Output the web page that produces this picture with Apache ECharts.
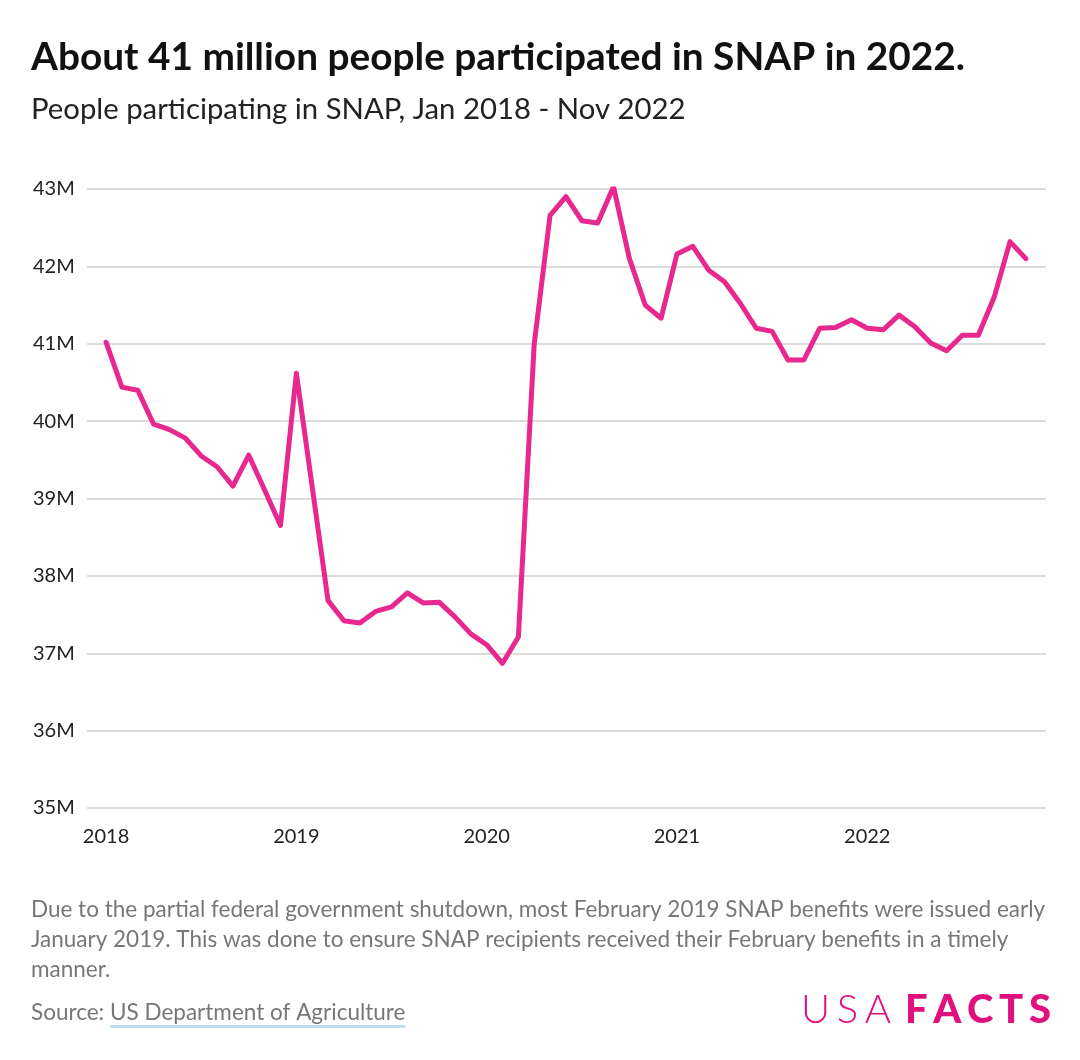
<!DOCTYPE html>
<html lang="en">
<head>
    <meta charset="UTF-8">
    <title>SNAP participation</title>
    <script src="https://cdn.jsdelivr.net/npm/echarts@6.0.0/dist/echarts.min.js"></script>
    <style>
        body {
            margin: 0;
            background-color: #fff;
        }

        #chart {
            width: 1080px;
            height: 1060px;
        }
    </style>
</head>
<body>
    <div id="chart"></div>

    <script>
        // months since Jan 2018 (0 = Jan 2018, 58 = Nov 2022)
        const months = [];
        for (let i = 0; i < 59; i++) months.push(i);

        // people participating in SNAP, millions
        const participants = [
            41.02, 40.44, 40.40, 39.96, 39.89, 39.78, 39.55, 39.41, 39.16, 39.56, 39.11, 38.65,
            40.62, 39.15, 37.68, 37.42, 37.39, 37.54, 37.60, 37.78, 37.65, 37.66, 37.47, 37.25,
            37.11, 36.87, 37.21, 41.00, 42.66, 42.90, 42.59, 42.56, 43.03, 42.10, 41.50, 41.33,
            42.16, 42.26, 41.95, 41.80, 41.52, 41.20, 41.16, 40.79, 40.79, 41.20, 41.21, 41.31,
            41.20, 41.18, 41.37, 41.22, 41.01, 40.91, 41.11, 41.11, 41.60, 42.32, 42.10
        ];

        const yearTicks = [0, 12, 24, 36, 48];
        const yearLabels = ['2018', '2019', '2020', '2021', '2022'];

        const noteLines = [
            'Due to the partial federal government shutdown, most February 2019 SNAP benefits were issued early',
            'January 2019. This was done to ensure SNAP recipients received their February benefits in a timely',
            'manner.'
        ];

        const font = 'Lato, "Noto Sans", sans-serif';
        const pink = '#e6288f';
        const logoPink = '#e0117f';

        const ctx = document.createElement('canvas').getContext('2d');

        // width of the source link text, for the underline
        ctx.font = '22.5px Lato';
        const prefixW = ctx.measureText('Source: ').width;
        const linkW = ctx.measureText('US Department of Agriculture').width;

        // spread a word's letters between x0 and x1
        function spacedWord(word, fontStr, x0, x1, top) {
            ctx.font = fontStr;
            const widths = word.split('').map(ch => ctx.measureText(ch).width);
            const total = widths.reduce((a, b) => a + b, 0);
            const gap = (x1 - x0 - total) / (word.length - 1);
            let x = x0;
            return word.split('').map((ch, i) => {
                const el = {
                    type: 'text', left: x, top: top,
                    style: { text: ch, font: fontStr, fill: logoPink }
                };
                x += widths[i] + gap;
                return el;
            });
        }

        const chart = echarts.init(document.getElementById('chart'));

        const graphics = noteLines.map((line, i) => ({
            type: 'text',
            left: 31,
            top: 898 + i * 30,
            style: { text: line, font: '22.5px ' + font, fill: '#777' }
        }));
        graphics.push({
            type: 'text', left: 31, top: 1001,
            style: { text: 'Source: US Department of Agriculture', font: '22.5px ' + font, fill: '#777' }
        });
        graphics.push({
            type: 'rect',
            shape: { x: 31 + prefixW, y: 1025, width: linkW, height: 3 },
            style: { fill: '#bfe0ee' }
        });
        graphics.push(...spacedWord('USA', '300 40px Lato', 801, 891, 990));
        graphics.push(...spacedWord('FACTS', '900 40px Lato', 905, 1051, 990));

        chart.setOption({
            animation: false,
            title: [
                {
                    text: 'About 41 million people participated in SNAP in 2022.',
                    left: 26, top: 33,
                    textStyle: { fontFamily: font, fontSize: 38.8, fontWeight: 'bold', color: '#111' }
                },
                {
                    text: 'People participating in SNAP, Jan 2018 - Nov 2022',
                    left: 26, top: 90,
                    textStyle: { fontFamily: font, fontSize: 29.3, fontWeight: 'normal', color: '#222' }
                }
            ],
            grid: { left: 87, right: 34, top: 189, bottom: 252 },
            xAxis: {
                type: 'value',
                min: -1.2,
                max: 59.27,
                axisLine: { show: false },
                axisTick: { show: false },
                splitLine: { show: false },
                axisLabel: {
                    customValues: yearTicks,
                    formatter: v => yearLabels[yearTicks.indexOf(v)],
                    margin: 19,
                    fontSize: 20,
                    fontFamily: font,
                    color: '#222'
                }
            },
            yAxis: {
                type: 'value',
                min: 35,
                max: 43,
                interval: 1,
                axisLine: { show: false },
                axisTick: { show: false },
                splitLine: { lineStyle: { color: '#dcdcdc', width: 2 } },
                axisLabel: {
                    formatter: '{value}M',
                    align: 'left',
                    margin: 54,
                    fontSize: 20,
                    fontFamily: font,
                    color: '#222'
                }
            },
            series: [{
                type: 'line',
                data: months.map((m, i) => [m, participants[i]]),
                symbol: 'none',
                lineStyle: { color: pink, width: 5, join: 'round', cap: 'round' }
            }],
            graphic: graphics
        });
    </script>
</body>
</html>
